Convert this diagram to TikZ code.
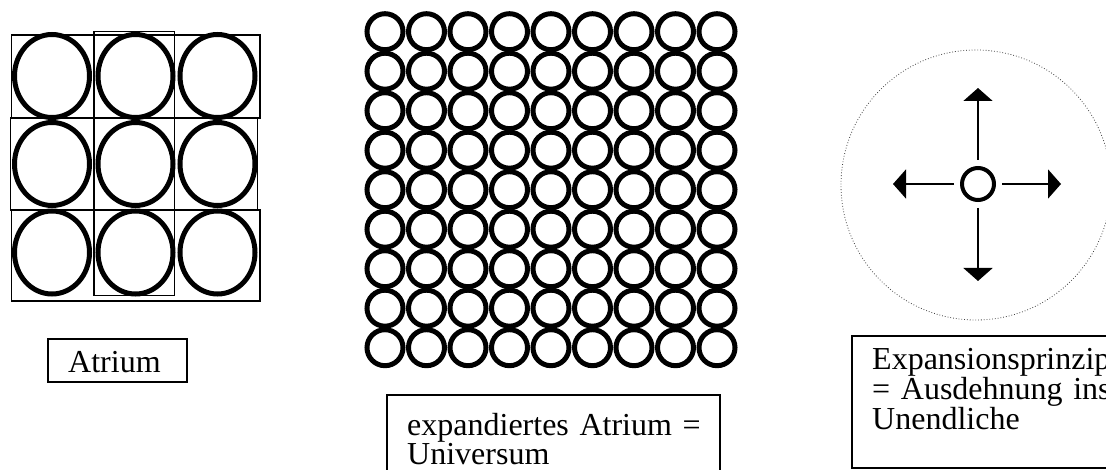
\documentclass[tikz,border=0pt]{standalone}
\usepackage{fontspec}
\setmainfont{Liberation Serif}
\usetikzlibrary{arrows.meta}

\begin{document}
\begin{tikzpicture}[
    x=1pt,
    y=-1pt,
    >={Triangle[length=13pt, width=29pt]},
    frame/.style={
        draw=black,
        line width=1.2pt
    },
    cell/.style={
        draw=black,
        line width=1.2pt
    },
    bigring/.style={
        draw=black,
        line width=5pt
    },
    smallring/.style={
        draw=black,
        line width=5pt
    },
    caption/.style={
        anchor=north west,
        inner sep=0pt,
        text width=300pt,
        align=left,
        font=\fontsize{32}{29}\selectfont
    },
    core/.style={
        circle,
        draw=black,
        line width=4pt,
        minimum size=32pt,
        inner sep=0pt
    },
    push/.style={
        ->,
        line width=2pt,
        shorten <=6pt
    },
    halo/.style={
        draw=black!75,
        dotted,
        line width=0.8pt
    }
]
\useasboundingbox (0,0) rectangle (1106,470);
\clip (0,0) rectangle (1106,470);

% Left: atrium as 3 x 3 cells
\draw[cell] (11.7,35) rectangle (260,118);
\draw[cell] (10.5,118) rectangle (257.5,210);
\draw[cell] (11.7,210) rectangle (260,301);
\draw[cell] (94,31.7) rectangle (174.3,295.7);
\foreach \cx in {52,135.5,217.5}
    \foreach \cy in {76,164,252.5}
        \draw[bigring] (\cx,\cy) ellipse [x radius=37.5pt, y radius=41.5pt];

% Middle: expanded atrium, 9 x 9 rings
\foreach \i in {0,...,8}
    \foreach \j in {0,...,8}
        \draw[smallring] ({385+41.5*\i},{31.7+39.5*\j}) circle [radius=18pt];

% Right: expansion from one core
\draw[halo] (976,185) circle [radius=135pt];
\node[core] (seed) at (978,184) {};
\coordinate (tipN) at (978,88);
\coordinate (tipS) at (978,281);
\coordinate (tipW) at (893,184);
\coordinate (tipE) at (1061,184);

\draw[push] (seed) -- (tipN);
\draw[push] (seed) -- (tipS);
\draw[push] (seed) -- (tipW);
\draw[push] (seed) -- (tipE);

% Captions
\draw[frame] (48,339) rectangle (187,382);
\node[caption] (atriumtext) at (68,351) {Atrium};

\draw[frame] (387,395) rectangle (720,490);
\node[caption] (universtext) at (407,413) {expandiertes Atrium =\\Universum};

\draw[frame] (852,336) rectangle (1160,468);
\node[caption] (expansiontext) at (872,348) {Expansionsprinzip\\= Ausdehnung ins\\Unendliche};

\end{tikzpicture}
\end{document}
